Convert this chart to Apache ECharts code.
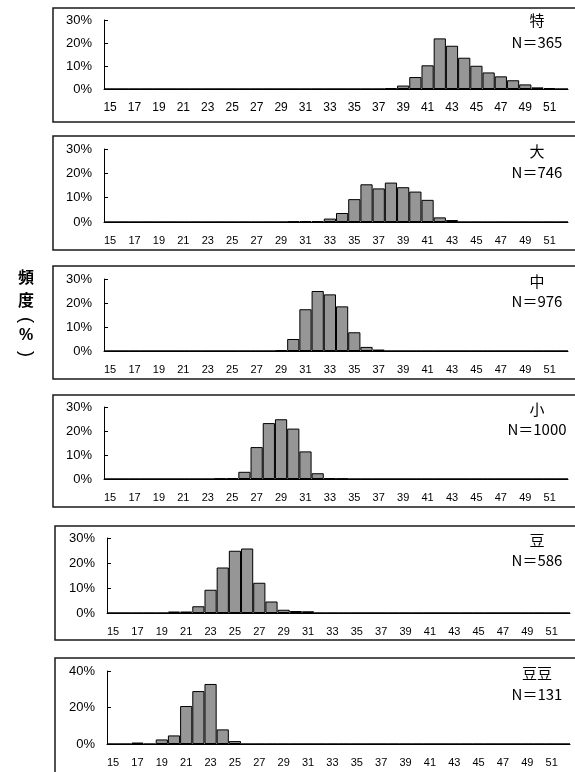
<!DOCTYPE html>
<html><head><meta charset="utf-8">
<script src="https://cdn.jsdelivr.net/npm/echarts@6/dist/echarts.min.js"></script>
<style>html,body{margin:0;padding:0;background:#fff}#c{width:575px;height:772px}</style>
</head><body><div id="c"></div>
<script>
// size categories (15..52)
const categories = ['15','16','17','18','19','20','21','22','23','24','25','26','27','28','29','30','31','32','33','34','35','36','37','38','39','40','41','42','43','44','45','46','47','48','49','50','51','52'];
// frequency (%) per grade
const toku = [0,0,0,0,0,0,0,0,0,0, 0,0,0,0,0,0,0,0,0,0, 0,0,0,0.3,1.5,5.2,10.3,22.0,18.8,13.6, 10.1,7.2,5.5,3.8,2.0,0.7,0.4,0];
const dai  = [0,0,0,0,0,0,0,0,0,0, 0,0,0,0,0,0.2,0.3,0.3,1.4,3.7, 9.4,15.5,13.8,16.2,14.3,12.5,9.1,1.9,0.8,0, 0,0,0,0,0,0,0,0];
const chu  = [0,0,0,0,0,0,0,0,0,0, 0,0,0,0,0.3,5.0,17.4,25.0,23.6,18.6, 7.8,1.7,0.6,0,0,0,0,0,0,0, 0,0,0,0,0,0,0,0];
const sho  = [0,0,0,0,0,0,0,0,0,0.2, 0.3,3.0,13.3,23.3,24.9,21.0,11.5,2.4,0.3,0.2, 0,0,0,0,0,0,0,0,0,0, 0,0,0,0,0,0,0,0];
const mame = [0,0,0,0,0,0.6,0.6,2.7,9.3,18.2, 24.9,25.8,12.1,4.6,1.3,0.8,0.7,0,0,0, 0,0,0,0,0,0,0,0,0,0, 0,0,0,0,0,0,0,0];
const mamemame = [0,0,0.8,0,2.5,4.7,20.8,29.0,32.9,8.0, 1.6,0,0,0,0,0,0,0,0,0, 0,0,0,0,0,0,0,0,0,0, 0,0,0,0,0,0,0,0];
const gradeNames = ['特','大','中','小','豆','豆豆'];
const counts = [365,746,976,1000,586,131];
const yMax = [30,30,30,30,30,40];
const yInterval = [10,10,10,10,10,20];
const seriesData = [toku,dai,chu,sho,mame,mamemame];

// layout (pixels)
const grids = [
  {left:104,top:20,width:464,height:69},
  {left:104,top:149,width:464,height:73},
  {left:104,top:279,width:464,height:72},
  {left:104,top:407,width:464,height:72},
  {left:107,top:538,width:463,height:75},
  {left:107,top:671,width:463,height:73}
];
const boxes = [
  {x:53,y:8,h:114},{x:53,y:136,h:114},{x:53,y:266,h:113},
  {x:53,y:395,h:112},{x:55,y:526,h:114},{x:55,y:658,h:130}
];
const titleY = [[20,42],[151,172],[281,301],[409,429],[540,560],[673,694]];
const FONT = '"Liberation Sans", Arial, sans-serif';

const chart = echarts.init(document.getElementById('c'));
const xAxis = [], yAxis = [], series = [], graphic = [];
for (let i=0;i<6;i++){
  xAxis.push({type:'category',gridIndex:i,data:categories,boundaryGap:true,
    axisLine:{lineStyle:{color:'#000',width:1}},
    axisTick:{inside:true,length:4,interval:0,lineStyle:{color:'#000'}},
    axisLabel:{interval:1,margin:13,color:'#000',fontSize:i===0?12:11,fontFamily:FONT}});
  yAxis.push({type:'value',gridIndex:i,min:0,max:yMax[i],interval:yInterval[i],
    splitLine:{show:false},
    axisLine:{show:true,lineStyle:{color:'#000',width:1}},
    axisTick:{show:true,inside:true,length:4,lineStyle:{color:'#000'}},
    axisLabel:{formatter:'{value}%',margin:12,color:'#000',fontSize:13,fontFamily:FONT}});
  series.push({type:'bar',xAxisIndex:i,yAxisIndex:i,data:seriesData[i],barCategoryGap:'0%',
    itemStyle:{color:'#969696',borderColor:'#000',borderWidth:1},silent:true,animation:false});
  const b = boxes[i];
  graphic.push({type:'rect',shape:{x:b.x,y:b.y,width:560,height:b.h},style:{fill:null,stroke:'#1a1a1a',lineWidth:1.5},silent:true,z:-1});
  graphic.push({type:'text',x:537,y:titleY[i][0],style:{text:gradeNames[i],fill:'#000',font:'15px "Noto Sans CJK JP"',textAlign:'center',textVerticalAlign:'middle'}});
  graphic.push({type:'text',x:537,y:titleY[i][1],style:{text:'N＝'+counts[i],fill:'#000',font:'15px "Noto Sans CJK JP"',textAlign:'center',textVerticalAlign:'middle'}});
}
// vertical axis title 頻度（%）
graphic.push({type:'text',x:26,y:277,style:{text:'頻',fill:'#000',font:'bold 16px "Noto Sans CJK JP"',textAlign:'center',textVerticalAlign:'middle'}});
graphic.push({type:'text',x:26,y:300,style:{text:'度',fill:'#000',font:'bold 16px "Noto Sans CJK JP"',textAlign:'center',textVerticalAlign:'middle'}});
graphic.push({type:'text',x:26,y:320,rotation:-Math.PI/2,style:{text:'(',fill:'#000',font:'18px "Liberation Sans", Arial, sans-serif',textAlign:'center',textVerticalAlign:'middle'}});
graphic.push({type:'text',x:26,y:336,style:{text:'%',fill:'#000',font:'bold 16px "Liberation Sans", Arial, sans-serif',textAlign:'center',textVerticalAlign:'middle'}});
graphic.push({type:'text',x:26,y:354,rotation:-Math.PI/2,style:{text:')',fill:'#000',font:'18px "Liberation Sans", Arial, sans-serif',textAlign:'center',textVerticalAlign:'middle'}});
chart.setOption({animation:false,grid:grids,xAxis,yAxis,series,graphic});
</script></body></html>
